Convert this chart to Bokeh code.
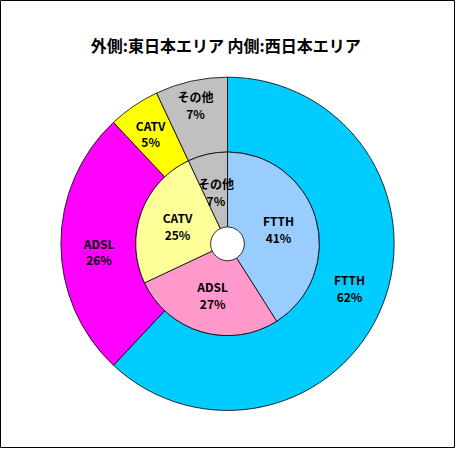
import math
from bokeh.plotting import figure
from bokeh.models import Range1d, ColumnDataSource
from bokeh.core.properties import value
from bokeh.embed import file_html
from bokeh.resources import INLINE

# ---- data ----
title_text = "外側:東日本エリア  内側:西日本エリア"
categories = ["FTTH", "ADSL", "CATV", "その他"]
outer_values = [62, 26, 5, 7]    # 外側: 東日本エリア (%)
inner_values = [41, 27, 25, 7]   # 内側: 西日本エリア (%)

# ---- styles ----
outer_colors = ["#00CCFF", "#FF00FF", "#FFFF00", "#C0C0C0"]
inner_colors = ["#99CCFF", "#FF99CC", "#FFFF99", "#C0C0C0"]
outer_label_nudge = [(-2, -5), (5, 8), (-2, 0), (-3, -9)]
inner_label_nudge = [(0, 0), (0, 0), (0, 0), (0, 0)]

# the figure shows the whole 471x464 chart area, scaled to fit the page
REF_W, REF_H = 471, 464
W, H = 455, 448
CX, CY = 235, REF_H - 252
R_OUT, R_MID, R_HOLE = 172.5, 95, 17.5
FONT = value("Noto Sans CJK JP")

p = figure(width=W, height=H, x_range=Range1d(0, REF_W),
           y_range=Range1d(0, REF_H),
           output_backend="svg", toolbar_location=None, min_border=0)
p.axis.visible = False
p.grid.visible = False
p.background_fill_color = "white"
p.border_fill_color = "white"
p.outline_line_color = "black"
p.outline_line_width = 1


def ring(vals, colors, r_in, r_out, label_r, nudges):
    total = float(sum(vals))
    cum = 0.0
    starts, ends, lx, ly_name, ly_pct, names, pcts = [], [], [], [], [], [], []
    for cat, v, (nx, ny) in zip(categories, vals, nudges):
        a0 = math.pi / 2 - 2 * math.pi * cum / total
        cum += v
        a1 = math.pi / 2 - 2 * math.pi * cum / total
        starts.append(a1)
        ends.append(a0)
        mid = (a0 + a1) / 2
        x = CX + label_r * math.cos(mid) + nx
        y = CY + label_r * math.sin(mid) - ny
        lx.append(x)
        ly_name.append(y + 8.5)
        ly_pct.append(y - 8.5)
        names.append(cat)
        pcts.append(f"{round(100 * v / total)}%")
    src = ColumnDataSource(dict(start=starts, end=ends, color=colors))
    p.annular_wedge(x=CX, y=CY, inner_radius=r_in, outer_radius=r_out,
                    start_angle="start", end_angle="end", direction="anticlock",
                    fill_color="color", line_color="black", line_width=0.8,
                    source=src)
    p.text(x=lx, y=ly_name, text=names, text_font=FONT, text_font_style="bold",
           text_font_size="12px", text_align="center", text_baseline="middle",
           text_color="black")
    p.text(x=lx, y=ly_pct, text=pcts, text_font=FONT, text_font_style="bold",
           text_font_size="12px", text_align="center", text_baseline="middle",
           text_color="black")


ring(outer_values, outer_colors, R_MID, R_OUT, 138, outer_label_nudge)
ring(inner_values, inner_colors, R_HOLE, R_MID, 55, inner_label_nudge)

p.text(x=[CX], y=[REF_H - 46], text=[title_text], text_font=FONT,
       text_font_style="bold", text_font_size="16px", text_align="center",
       text_baseline="middle", text_color="black")

open("out.html", "w").write(file_html(p, INLINE))
